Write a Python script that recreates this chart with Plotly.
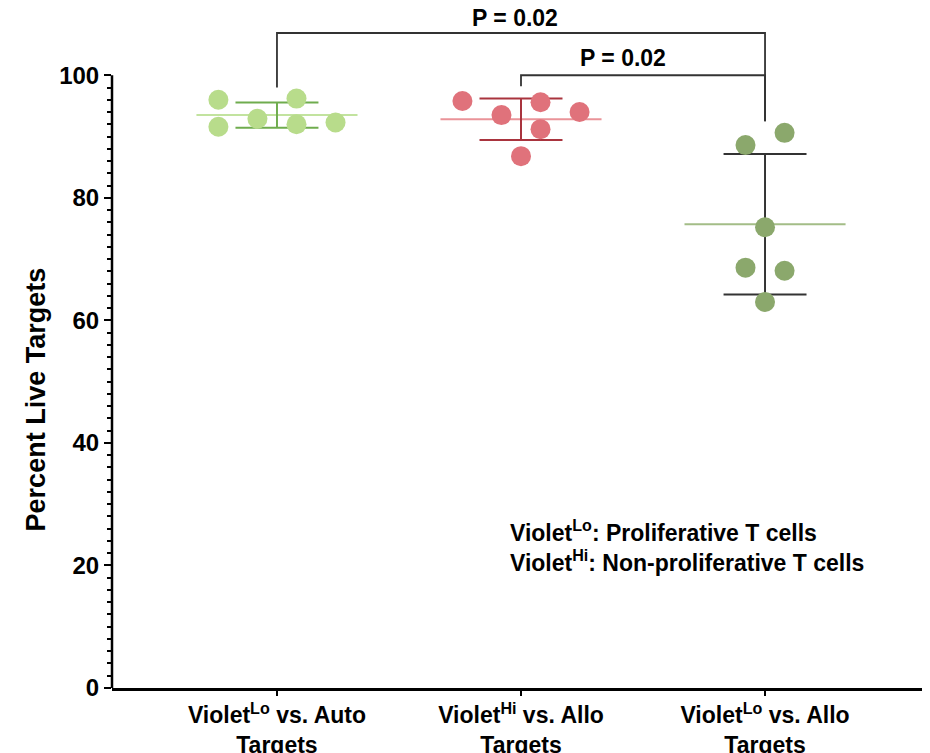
import numpy as np
import plotly.graph_objects as go

# ---------------- data ----------------
categories = [
    "Violet<sup>Lo</sup> vs. Auto<br>Targets",
    "Violet<sup>Hi</sup> vs. Allo<br>Targets",
    "Violet<sup>Lo</sup> vs. Allo<br>Targets",
]
auto_lo = [96.0, 91.6, 92.9, 96.2, 92.0, 92.3]
allo_hi = [95.8, 93.5, 86.8, 95.6, 91.2, 94.0]
allo_lo = [88.6, 68.6, 75.2, 63.0, 90.6, 68.1]
y_ticks = [0, 20, 40, 60, 80, 100]
p_labels = ["P = 0.02", "P = 0.02"]
note_lines = ["Violet<sup>Lo</sup>: Proliferative T cells",
              "Violet<sup>Hi</sup>: Non-proliferative T cells"]

# ---------------- styling / layout constants ----------------
jitter = [
    [-0.24, -0.24, -0.08, 0.08, 0.08, 0.24],
    [-0.24, -0.08, 0.0, 0.08, 0.08, 0.24],
    [-0.08, -0.08, 0.0, 0.0, 0.08, 0.08],
]
marker_colors = ["#b8dc8b", "#e0727b", "#8ba86c"]
mean_colors = ["#c2e39f", "#ea9399", "#a3bd87"]
err_colors = ["#6fac4e", "#a9343e", "#333333"]
MEAN_HALF = 0.33
CAP_HALF = 0.17
FONT = "Liberation Sans, Arial, sans-serif"

groups = [auto_lo, allo_hi, allo_lo]

fig = go.Figure()

for i, vals in enumerate(groups):
    v = np.array(vals)
    m = v.mean()
    sd = v.std(ddof=1)
    # mean line
    fig.add_trace(go.Scatter(x=[i - MEAN_HALF, i + MEAN_HALF], y=[m, m], mode="lines",
                             line=dict(color=mean_colors[i], width=2), hoverinfo="skip",
                             showlegend=False))
    # SD error bar: vertical + caps
    fig.add_trace(go.Scatter(
        x=[i, i, None, i - CAP_HALF, i + CAP_HALF, None, i - CAP_HALF, i + CAP_HALF],
        y=[m - sd, m + sd, None, m + sd, m + sd, None, m - sd, m - sd],
        mode="lines", line=dict(color=err_colors[i], width=2), hoverinfo="skip",
        showlegend=False))

for i, vals in enumerate(groups):
    fig.add_trace(go.Scatter(
        x=[i + j for j in jitter[i]], y=vals, mode="markers",
        marker=dict(size=20, color=marker_colors[i], line=dict(width=0)),
        showlegend=False, cliponaxis=False))

# significance brackets
BR = "#333333"
outer_y, inner_y = 106.9, 100.0
fig.add_trace(go.Scatter(x=[0, 0, 2, 2], y=[98.0, outer_y, outer_y, 92.5], mode="lines",
                         line=dict(color=BR, width=1.8), hoverinfo="skip", showlegend=False))
fig.add_trace(go.Scatter(x=[1, 1, 2, 2], y=[98.2, inner_y, inner_y, 92.5], mode="lines",
                         line=dict(color=BR, width=1.8), hoverinfo="skip", showlegend=False))

annotations = [
    dict(x=0.975, y=109.3, xref="x", yref="y", text="<b>%s</b>" % p_labels[0], showarrow=False,
         font=dict(size=23, color="black", family=FONT), xanchor="center", yanchor="middle"),
    dict(x=1.42, y=102.9, xref="x", yref="y", text="<b>%s</b>" % p_labels[1], showarrow=False,
         font=dict(size=23, color="black", family=FONT), xanchor="center", yanchor="middle"),
    dict(x=0.947, y=23.2, xref="x", yref="y", text="<b>" + "<br>".join(note_lines) + "</b>",
         showarrow=False, align="left", xanchor="left", yanchor="middle",
         font=dict(size=23, color="black", family=FONT)),
    dict(x=0, xref="paper", xshift=-76, y=47.1, yref="y", text="<b>Percent Live Targets</b>",
         textangle=-90, showarrow=False, xanchor="center", yanchor="middle",
         font=dict(size=27, color="black", family=FONT)),
]

# page body has an 8px margin, so the figure is sized to fill the rest of the window
fig.update_layout(
    width=922, height=745,
    margin=dict(l=104, r=0, t=6, b=65),
    paper_bgcolor="white", plot_bgcolor="white",
    annotations=annotations,
    shapes=[dict(type="line", xref="paper", x0=0, x1=0, yref="y", y0=y_ticks[0], y1=y_ticks[-1],
                 line=dict(color="black", width=2.5), layer="above")],
    font=dict(family=FONT, color="black"),
)
fig.update_xaxes(
    range=[-0.676, 2.676], tickmode="array", tickvals=[0, 1, 2],
    ticktext=["<b>%s</b>" % c for c in categories], automargin=False,
    showline=True, linecolor="black", linewidth=2.5, ticks="outside", ticklen=5,
    tickwidth=2, tickcolor="black", showgrid=False, zeroline=False,
    tickfont=dict(size=23, family=FONT, color="black"),
)
fig.update_yaxes(
    range=[0, 110], tickmode="array", tickvals=y_ticks, automargin=False,
    ticktext=["<b>%d</b>" % t for t in y_ticks],
    showline=False, ticks="outside", ticklen=7, tickwidth=2, tickcolor="black",
    showgrid=False, zeroline=False,
    tickfont=dict(size=24, family=FONT, color="black"),
    minor=dict(tickmode="array", tickvals=list(range(0, 101, 2)), ticks="outside",
               ticklen=4, tickwidth=1.5, tickcolor="black", showgrid=False),
)

fig.write_html("out.html")
